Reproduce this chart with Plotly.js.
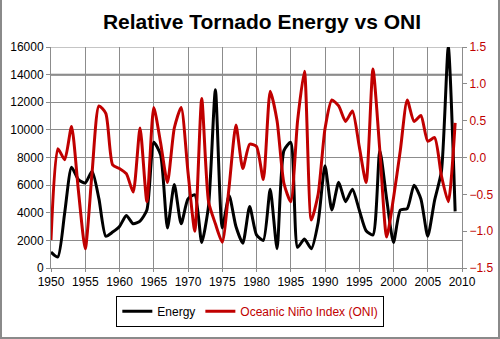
<!DOCTYPE html>
<html>
<head>
<meta charset="utf-8">
<script src="https://cdn.plot.ly/plotly-3.0.1.min.js"></script>
<style>
  html, body { margin: 0; padding: 0; background: #fff; }
  #wrap { position: relative; width: 500px; height: 339px; }
  #chart { width: 500px; height: 339px; }
  #frame { position: absolute; left: 0; top: 0; width: 500px; height: 339px; box-sizing: border-box;
           border-left: 2px solid #8a8a8a; border-right: 2px solid #8a8a8a; border-bottom: 2px solid #8a8a8a;
           pointer-events: none; }
</style>
</head>
<body>
<div id="wrap"><div id="chart"></div><div id="frame"></div></div>
<script>
var years = [];
for (var yr = 1950; yr <= 2009; yr++) years.push(yr);

var energy = [
  1150, 800, 4000, 7300, 6400, 6150, 7000, 5000, 2300, 2600,
  3000, 3800, 3200, 3400, 4200, 9100, 8200, 2900, 6050, 3200,
  5000, 5300, 1850, 4500, 12900, 2900, 5250, 3000, 1800, 4450,
  2400, 2000, 5700, 1400, 8500, 9100, 1500, 2100, 1400, 3300,
  7400, 4200, 6200, 4800, 5700, 4200, 2700, 2400, 8500, 5000,
  1850, 4200, 4300, 6000, 5000, 2300, 4900, 7000, 16000, 4100
];

var oni = [
  -1.12, 0.12, -0.03, 0.42, -0.45, -1.24, -0.2, 0.7, 0.6, -0.1,
  -0.15, -0.22, -0.47, 0.4, -0.6, 0.68, 0.2, -0.34, 0.4, 0.68,
  -0.2, -1.0, 0.8, -0.6, -0.9, -1.15, -0.4, 0.44, -0.15, 0.18,
  0.15, -0.3, 0.9, 0.5, -0.35, -0.6, 0.5, 1.17, -0.85, -0.5,
  0.39, 0.78, 0.7, 0.49, 0.63, 0.15, -0.34, 1.2, 0.1, -1.08,
  -0.55, 0.1, 0.78, 0.49, 0.57, 0.22, 0.27, -0.25, -0.6, 0.47
];

var seriesNames = ['Energy', 'Oceanic Niño Index (ONI)'];
var titleText = 'Relative Tornado Energy vs ONI';

var RED = '#c00000';
var GRID = '#8c8c8c';

var traces = [
  {
    x: years, y: energy, name: seriesNames[0], type: 'scatter', mode: 'lines',
    line: { color: '#000000', width: 3, shape: 'spline', smoothing: 0.6 },
    yaxis: 'y'
  },
  {
    x: years, y: oni, name: '<span style="color:' + RED + '">' + seriesNames[1] + '</span>',
    type: 'scatter', mode: 'lines',
    line: { color: RED, width: 3, shape: 'spline', smoothing: 0.6 },
    yaxis: 'y2'
  }
];

var layout = {
  width: 500, height: 339,
  margin: { l: 51, r: 38, t: 47, b: 57, pad: 0 },
  paper_bgcolor: '#ffffff', plot_bgcolor: '#ffffff',
  font: { family: 'Liberation Sans, Arial, sans-serif', size: 12, color: '#000' },
  title: {
    text: '<b>' + titleText + '</b>',
    font: { family: 'Liberation Sans, Arial, sans-serif', size: 21, color: '#000' },
    x: 0.524, xanchor: 'center', xref: 'container',
    y: 0.937, yanchor: 'middle', yref: 'container'
  },
  showlegend: true,
  legend: {
    orientation: 'h', x: 0.485, xanchor: 'center', y: -0.125, yanchor: 'top',
    bordercolor: '#000', borderwidth: 1, bgcolor: '#fff',
    font: { size: 12, color: '#000' }, itemwidth: 30, traceorder: 'normal'
  },
  xaxis: {
    range: [1950, 2010], dtick: 5, tick0: 1950, tickmode: 'linear',
    showgrid: true, gridcolor: GRID, gridwidth: 1,
    showline: true, linecolor: GRID, linewidth: 1,
    ticks: 'outside', ticklen: 3, tickcolor: GRID,
    zeroline: false, tickfont: { size: 12, color: '#000' }, fixedrange: true
  },
  yaxis: {
    range: [0, 16000], dtick: 2000, tickmode: 'linear', tickformat: 'd',
    showgrid: true, gridcolor: GRID, gridwidth: 1,
    showline: true, linecolor: GRID, linewidth: 1,
    ticks: 'outside', ticklen: 4, tickcolor: GRID,
    zeroline: false, tickfont: { size: 12, color: '#000' }, fixedrange: true
  },
  yaxis2: {
    range: [-1.5, 1.5], dtick: 0.5, tickmode: 'linear', tickformat: '.1f',
    overlaying: 'y', side: 'right', showgrid: false,
    showline: true, linecolor: GRID, linewidth: 1,
    ticks: 'outside', ticklen: 4, tickcolor: GRID,
    zeroline: false, tickfont: { size: 12, color: RED }, fixedrange: true
  },
  shapes: [
    { type: 'line', xref: 'paper', x0: 0, x1: 1, yref: 'y', y0: 14000, y1: 14000,
      line: { color: '#7a7a7a', width: 2 }, layer: 'below' },
    { type: 'line', xref: 'paper', x0: 0, x1: 1, yref: 'y', y0: 16000, y1: 16000,
      line: { color: GRID, width: 1 }, layer: 'below' }
  ]
};

Plotly.newPlot('chart', traces, layout, { displayModeBar: false, staticPlot: true });
</script>
</body>
</html>
